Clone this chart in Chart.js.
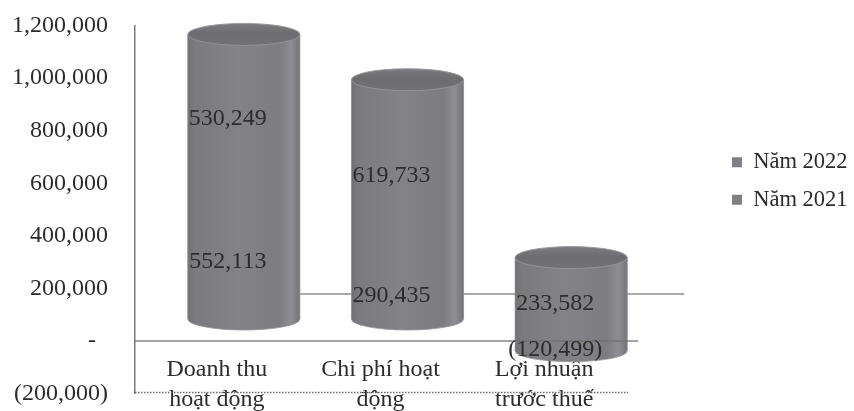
<!DOCTYPE html>
<html>
<head>
<meta charset="utf-8">
<script src="https://cdn.jsdelivr.net/npm/chart.js@4.4.1/dist/chart.umd.min.js"></script>
<style>
  html, body { margin: 0; padding: 0; background: #ffffff; }
  #wrap { position: relative; width: 854px; height: 411px; }
</style>
</head>
<body>
<div id="wrap"><canvas id="chart"></canvas></div>
<script>
// Categories (two-line axis labels)
const categories = [
  ['Doanh thu', 'hoạt động'],
  ['Chi phí hoạt', 'động'],
  ['Lợi nhuận', 'trước thuế']
];
// Series, stacked: 2021 at the base, 2022 above it
const seriesNames = ['Năm 2021', 'Năm 2022'];
const values2021 = [552113, 290435, -120499];
const values2022 = [530249, 619733, 233582];
// Value axis
const yMin = -200000;
const yMax = 1200000;
const yStep = 200000;

const SERIF = '"Liberation Serif", "Times New Roman", serif';
const TEXT = '#2c2c2c';
const BAR_GREY = '#808084';

// 3D look: cylinders sit in the middle of the floor depth
const DEPTH = { dx: 46, dy: -47 };
const BAR_SHIFT = { dx: 27, dy: -22 };
const CAP_RY = 11;

function fmtNum(v) {
  const s = Math.abs(v).toLocaleString('en-US');
  return v < 0 ? '(' + s + ')' : s;
}
function fmtTick(v) {
  if (v === 0) return '-  ';
  return fmtNum(v);
}

// Legend sits well to the right of the plot
const legendPlacement = {
  id: 'legendPlacement',
  beforeInit(chart) {
    const legend = chart.legend;
    const fit = legend.fit;
    legend.fit = function () {
      fit.call(this);
      this.width = 228;
    };
  },
  afterLayout(chart) {
    const legend = chart.legend;
    const w = legend.width;
    legend.left = chart.chartArea.right + 91;
    legend.right = legend.left + w;
    legend.top = 136;
  }
};

// Cylinders, floor edges and value labels
const cylinders = {
  id: 'cylinders',
  beforeDatasetsDraw(chart) {
    const { ctx, chartArea } = chart;
    const y0 = chart.scales.y.getPixelForValue(0);
    // back edge of the floor
    ctx.save();
    ctx.strokeStyle = '#8c8c8c';
    ctx.lineWidth = 1.5;
    ctx.beginPath();
    ctx.moveTo(chartArea.left + DEPTH.dx + 8, y0 + DEPTH.dy);
    ctx.lineTo(chartArea.right + 12 + DEPTH.dx, y0 + DEPTH.dy);
    ctx.stroke();
    ctx.restore();
    ctx.save();
    ctx.translate(BAR_SHIFT.dx, BAR_SHIFT.dy);
  },
  afterDatasetsDraw(chart) {
    const { ctx, chartArea } = chart;
    const metas = chart.getSortedVisibleDatasetMetas();
    const n = chart.data.labels.length;
    for (let i = 0; i < n; i++) {
      const els = metas.map(m => m.data[i]).filter(Boolean);
      if (!els.length) continue;
      let top = Infinity, bottom = -Infinity;
      els.forEach(el => {
        const p = el.getProps(['x', 'y', 'base', 'width'], true);
        top = Math.min(top, p.y, p.base);
        bottom = Math.max(bottom, p.y, p.base);
      });
      const p0 = els[0].getProps(['x', 'width'], true);
      const cx = p0.x, rx = p0.width / 2;
      const left = cx - rx, right = cx + rx;

      const body = ctx.createLinearGradient(left, 0, right, 0);
      body.addColorStop(0, '#707074');
      body.addColorStop(0.06, '#7b7b7f');
      body.addColorStop(0.45, '#838387');
      body.addColorStop(0.82, '#7d7d81');
      body.addColorStop(0.92, '#8e8e92');
      body.addColorStop(1, '#747478');

      ctx.save();
      ctx.beginPath();
      ctx.moveTo(left, top);
      ctx.lineTo(left, bottom);
      ctx.ellipse(cx, bottom, rx, CAP_RY, 0, Math.PI, 0, true);
      ctx.lineTo(right, top);
      ctx.closePath();
      ctx.fillStyle = body;
      ctx.fill();
      ctx.strokeStyle = 'rgba(150,150,154,0.8)';
      ctx.lineWidth = 1;
      ctx.stroke();

      // top cap
      const cap = ctx.createLinearGradient(0, top - CAP_RY, 0, top + CAP_RY);
      cap.addColorStop(0, '#7d7d81');
      cap.addColorStop(0.45, '#6d6d71');
      cap.addColorStop(1, '#727276');
      ctx.beginPath();
      ctx.ellipse(cx, top, rx, CAP_RY, 0, 0, Math.PI * 2);
      ctx.fillStyle = cap;
      ctx.fill();
      ctx.strokeStyle = 'rgba(150,150,154,0.9)';
      ctx.stroke();
      ctx.restore();
    }
    ctx.restore(); // undo bar shift

    const yScale = chart.scales.y;
    const y0 = yScale.getPixelForValue(0);
    // front edge of the floor
    ctx.save();
    ctx.strokeStyle = 'rgba(110,110,110,0.85)';
    ctx.lineWidth = 1.5;
    ctx.beginPath();
    ctx.moveTo(chartArea.left, y0);
    ctx.lineTo(chartArea.right + 12, y0);
    ctx.stroke();
    // dotted base line
    ctx.setLineDash([1.5, 1.5]);
    ctx.strokeStyle = '#6a6a6a';
    ctx.beginPath();
    ctx.moveTo(chartArea.left, chartArea.bottom - 1);
    ctx.lineTo(chartArea.right + 2, chartArea.bottom - 1);
    ctx.stroke();
    ctx.restore();

    // value labels
    ctx.save();
    ctx.font = '24px ' + SERIF;
    ctx.fillStyle = TEXT;
    ctx.textAlign = 'center';
    ctx.textBaseline = 'middle';
    metas.forEach(meta => {
      const vals = chart.data.datasets[meta.index].data;
      meta.data.forEach((el, i) => {
        const p = el.getProps(['x', 'y', 'base'], true);
        ctx.fillText(fmtNum(vals[i]), p.x + 11, (p.y + p.base) / 2 - 7);
      });
    });
    ctx.restore();
  }
};

new Chart(document.getElementById('chart'), {
  type: 'bar',
  data: {
    labels: categories,
    datasets: [
      { label: seriesNames[0], data: values2021, backgroundColor: BAR_GREY, borderWidth: 0, clip: false },
      { label: seriesNames[1], data: values2022, backgroundColor: BAR_GREY, borderWidth: 0, clip: false }
    ]
  },
  options: {
    responsive: true,
    maintainAspectRatio: false,
    animation: false,
    events: [],
    layout: { padding: { left: 12, top: 25.5, bottom: 17.4, right: 0 } },
    datasets: { bar: { categoryPercentage: 1, barPercentage: 0.685 } },
    scales: {
      x: {
        stacked: true,
        position: { y: 0 },
        offset: true,
        grid: { display: false, drawTicks: false },
        border: { display: false },
        afterFit(scale) { scale.paddingLeft = 0; scale.paddingRight = 0; scale.paddingTop = 0; scale.paddingBottom = 0; },
        ticks: {
          color: TEXT,
          font: { family: SERIF, size: 24, lineHeight: 1.25 },
          padding: 14,
          maxRotation: 0,
          autoSkip: false
        }
      },
      y: {
        stacked: true,
        min: yMin,
        max: yMax,
        grid: { display: false, drawTicks: false },
        border: { display: true, color: '#7a7a7a', width: 1.5 },
        afterFit(scale) {
          scale.width = 123;
          scale.paddingTop = 0; scale.paddingBottom = 0; scale.paddingLeft = 0; scale.paddingRight = 0;
        },
        ticks: {
          stepSize: yStep,
          color: TEXT,
          padding: 27,
          font: { family: SERIF, size: 24 },
          callback: v => fmtTick(v)
        }
      }
    },
    plugins: {
      tooltip: { enabled: false },
      legend: {
        position: 'right',
        align: 'start',
        reverse: true,
        labels: {
          boxWidth: 10,
          boxHeight: 10,
          padding: 15,
          color: TEXT,
          font: { family: SERIF, size: 22.5 }
        }
      }
    }
  },
  plugins: [legendPlacement, cylinders]
});
</script>
</body>
</html>
